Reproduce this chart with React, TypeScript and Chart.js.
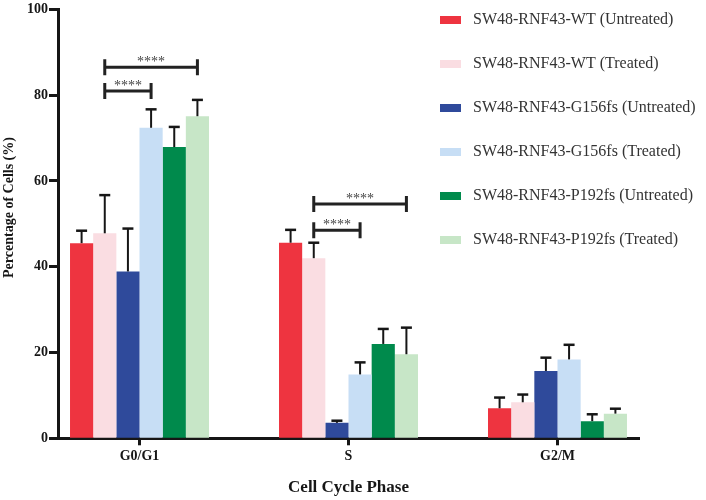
import React, { useEffect, useRef } from "react";
import { Chart, registerables, Plugin } from "chart.js";

Chart.register(...registerables);

const phases = ["G0/G1", "S", "G2/M"];

const seriesLabels = [
  "SW48-RNF43-WT (Untreated)",
  "SW48-RNF43-WT (Treated)",
  "SW48-RNF43-G156fs (Untreated)",
  "SW48-RNF43-G156fs (Treated)",
  "SW48-RNF43-P192fs (Untreated)",
  "SW48-RNF43-P192fs (Treated)",
];

const seriesColors = [
  "rgb(238,52,64)",
  "rgb(250,221,226)",
  "rgb(47,74,155)",
  "rgb(199,222,245)",
  "rgb(0,138,76)",
  "rgb(199,230,199)",
];

// mean % of cells per phase (G0/G1, S, G2/M)
const wtUntreated = [45.5, 45.6, 7.0];
const wtTreated = [47.8, 42.0, 8.4];
const g156Untreated = [38.9, 3.6, 15.7];
const g156Treated = [72.4, 14.9, 18.4];
const p192Untreated = [67.9, 22.0, 4.0];
const p192Treated = [75.1, 19.6, 5.75];

// upper error (SD)
const wtUntreatedErr = [2.9, 3.0, 2.5];
const wtTreatedErr = [8.9, 3.6, 1.8];
const g156UntreatedErr = [10.0, 0.5, 3.1];
const g156TreatedErr = [4.3, 2.8, 3.4];
const p192UntreatedErr = [4.7, 3.5, 1.6];
const p192TreatedErr = [3.8, 6.2, 1.15];

const seriesValues = [wtUntreated, wtTreated, g156Untreated, g156Treated, p192Untreated, p192Treated];
const seriesErrors = [wtUntreatedErr, wtTreatedErr, g156UntreatedErr, g156TreatedErr, p192UntreatedErr, p192TreatedErr];

const yTicks = [0, 20, 40, 60, 80, 100];

// significance brackets: phase index, from series, to series, height (%)
const bracketPhase = [0, 0, 1, 1];
const bracketFrom = [1, 1, 1, 1];
const bracketTo = [3, 5, 3, 5];
const bracketLevel = [81, 86.5, 48.5, 54.6];
const bracketText = ["****", "****", "****", "****"];

const SERIF = "'Liberation Serif', 'Times New Roman', serif";
const INK = "#161616";

const overlay: Plugin<"bar"> = {
  id: "overlay",
  afterDatasetsDraw(chart) {
    const ctx = chart.ctx;
    const y = chart.scales.y;
    ctx.save();

    // error bars (upper half only)
    ctx.strokeStyle = INK;
    seriesValues.forEach((vals, i) => {
      const meta = chart.getDatasetMeta(i);
      meta.data.forEach((bar: any, j) => {
        const top = y.getPixelForValue(vals[j] + seriesErrors[i][j]);
        ctx.lineWidth = 2;
        ctx.beginPath();
        ctx.moveTo(bar.x, bar.y);
        ctx.lineTo(bar.x, top);
        ctx.stroke();
        ctx.lineWidth = 2.5;
        ctx.beginPath();
        ctx.moveTo(bar.x - 5.5, top);
        ctx.lineTo(bar.x + 5.5, top);
        ctx.stroke();
      });
    });

    // significance brackets
    ctx.strokeStyle = "#222";
    ctx.lineWidth = 3;
    bracketPhase.forEach((g, k) => {
      const a: any = chart.getDatasetMeta(bracketFrom[k]).data[g];
      const b: any = chart.getDatasetMeta(bracketTo[k]).data[g];
      const py = y.getPixelForValue(bracketLevel[k]);
      ctx.beginPath();
      ctx.moveTo(a.x, py);
      ctx.lineTo(b.x, py);
      ctx.moveTo(a.x, py - 8);
      ctx.lineTo(a.x, py + 8);
      ctx.moveTo(b.x, py - 8);
      ctx.lineTo(b.x, py + 8);
      ctx.stroke();
      ctx.fillStyle = "#444";
      ctx.font = `14px ${SERIF}`;
      ctx.textAlign = "center";
      ctx.textBaseline = "alphabetic";
      ctx.fillText(bracketText[k], (a.x + b.x) / 2, py - 1);
    });
    ctx.restore();
  },
  afterDraw(chart) {
    const ctx = chart.ctx;
    const area = chart.chartArea;
    ctx.save();

    // legend
    ctx.font = `16px ${SERIF}`;
    ctx.textAlign = "left";
    ctx.textBaseline = "middle";
    seriesLabels.forEach((label, i) => {
      const cy = 20 + i * 44;
      ctx.fillStyle = seriesColors[i];
      ctx.fillRect(440, cy - 4, 21, 8);
      ctx.fillStyle = "#333";
      ctx.fillText(label, 473, cy);
    });

    // axis titles
    ctx.fillStyle = INK;
    ctx.textAlign = "center";
    ctx.font = `bold 17px ${SERIF}`;
    ctx.fillText("Cell Cycle Phase", (area.left + area.right) / 2, 488);
    ctx.translate(9, 207.5);
    ctx.rotate(-Math.PI / 2);
    ctx.font = `bold 14px ${SERIF}`;
    ctx.fillText("Percentage of Cells (%)", 0, 0);
    ctx.restore();
  },
};

export default function App() {
  const canvasRef = useRef<HTMLCanvasElement>(null);

  useEffect(() => {
    if (!canvasRef.current) return;

    const chart = new Chart(canvasRef.current, {
      type: "bar",
      data: {
        datasets: seriesValues.map((vals, i) => ({
          label: seriesLabels[i],
          data: vals.map((v, j) => ({ x: j, y: v })),
          backgroundColor: seriesColors[i],
          borderWidth: 0,
          barPercentage: 1,
          categoryPercentage: 0.665,
        })),
      },
      options: {
        animation: false,
        responsive: true,
        maintainAspectRatio: false,
        layout: { padding: { top: 7, right: 67, left: 0, bottom: 0 } },
        plugins: {
          legend: { display: false },
          tooltip: { enabled: false },
        },
        scales: {
          x: {
            type: "linear",
            offset: false,
            min: -0.39,
            max: 2.39,
            afterBuildTicks: (s: any) => {
              s.ticks = phases.map((_, i) => ({ value: i }));
            },
            afterFit: (s: any) => {
              s.height = 61.7;
            },
            ticks: {
              callback: (v: any) => phases[v] ?? "",
              font: { family: SERIF, size: 14, weight: "bold" },
              color: INK,
              padding: 3,
              autoSkip: false,
              maxRotation: 0,
            },
            grid: { offset: false, drawOnChartArea: false, tickLength: 7, tickWidth: 3, tickColor: INK },
            border: { width: 3, color: INK },
          },
          y: {
            min: 0,
            max: 100,
            afterBuildTicks: (s: any) => {
              s.ticks = yTicks.map((v) => ({ value: v }));
            },
            afterFit: (s: any) => {
              s.width = 58;
            },
            ticks: {
              font: { family: SERIF, size: 14, weight: "bold" },
              color: INK,
              padding: 1,
            },
            grid: { drawOnChartArea: false, tickLength: 9, tickWidth: 3, tickColor: INK },
            border: { width: 3, color: INK },
          },
        },
      },
      plugins: [overlay],
    });

    return () => chart.destroy();
  }, []);

  return (
    <div style={{ position: "absolute", left: 0, top: 0, width: 706, height: 500 }}>
      <canvas ref={canvasRef} />
    </div>
  );
}
